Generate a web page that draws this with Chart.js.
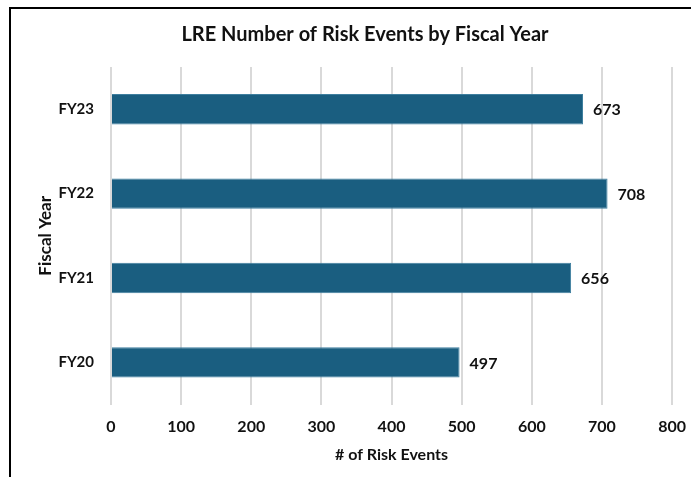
<!DOCTYPE html>
<html>
<head>
<meta charset="utf-8">
<script src="https://cdn.jsdelivr.net/npm/chart.js@4/dist/chart.umd.min.js"></script>
<style>
  html, body { margin: 0; padding: 0; background: #fff; }
  #wrap { position: relative; width: 691px; height: 477px; overflow: hidden; }
  #frame { position: absolute; left: 9px; top: 7px; width: 800px; height: 600px;
           border-top: 2px solid #000; border-left: 2px solid #000; box-sizing: border-box; }
  canvas { position: absolute; left: 0; top: 0; }
</style>
</head>
<body>
<div id="wrap">
  <div id="frame"></div>
  <!-- canvas runs a little past the right edge, the wrapper crops it -->
  <canvas id="chart" width="699" height="477"></canvas>
</div>
<script>
// Fiscal year risk event counts
const years = ['FY23', 'FY22', 'FY21', 'FY20'];
const riskEvents = [673, 708, 656, 497];

const FONT = 'Lato, "Open Sans", sans-serif';

// write each bar's value just past its end
const valueLabels = {
    id: 'valueLabels',
    afterDatasetsDraw(chart) {
        const ctx = chart.ctx;
        const meta = chart.getDatasetMeta(0);
        ctx.save();
        ctx.font = 'bold 16px ' + FONT;
        ctx.fillStyle = '#111';
        ctx.textAlign = 'left';
        ctx.textBaseline = 'middle';
        meta.data.forEach((bar, i) => {
            ctx.fillText(String(riskEvents[i]), bar.x + 10, bar.y + 1);
        });
        ctx.restore();
    }
};

new Chart(document.getElementById('chart'), {
    type: 'bar',
    data: {
        labels: years,
        datasets: [{
            data: riskEvents,
            backgroundColor: '#1a5e80',
            borderColor: '#3f7f9f',
            borderWidth: 1,
            categoryPercentage: 1,
            barPercentage: 0.36
        }]
    },
    options: {
        indexAxis: 'y',
        responsive: false,
        animation: false,
        layout: { padding: { top: 23, left: 31, right: 0, bottom: 13 } },
        plugins: {
            legend: { display: false },
            tooltip: { enabled: false },
            title: {
                display: true,
                text: 'LRE Number of Risk Events by Fiscal Year',
                color: '#111',
                font: { family: FONT, size: 20, weight: 'bold' },
                padding: { top: 0, bottom: 20 }
            }
        },
        scales: {
            x: {
                min: 0,
                max: 800,
                ticks: {
                    stepSize: 100,
                    color: '#111',
                    padding: 13,
                    font: { family: FONT, size: 16, weight: 'bold' }
                },
                grid: { color: '#d9d9d9', lineWidth: 2, drawTicks: false },
                border: { display: false },
                title: {
                    display: true,
                    text: '# of Risk Events',
                    color: '#111',
                    font: { family: FONT, size: 16, weight: 'bold' },
                    padding: { top: -5, bottom: 0 }
                }
            },
            y: {
                afterFit: (scale) => { scale.width = 80; },
                ticks: {
                    color: '#111',
                    padding: 9,
                    font: { family: FONT, size: 15, weight: 'bold' }
                },
                grid: { display: false },
                border: { display: false },
                title: {
                    display: true,
                    text: 'Fiscal Year',
                    color: '#111',
                    font: { family: FONT, size: 17, weight: 'bold' },
                    padding: { bottom: 0 }
                }
            }
        }
    },
    plugins: [valueLabels]
});
</script>
</body>
</html>
